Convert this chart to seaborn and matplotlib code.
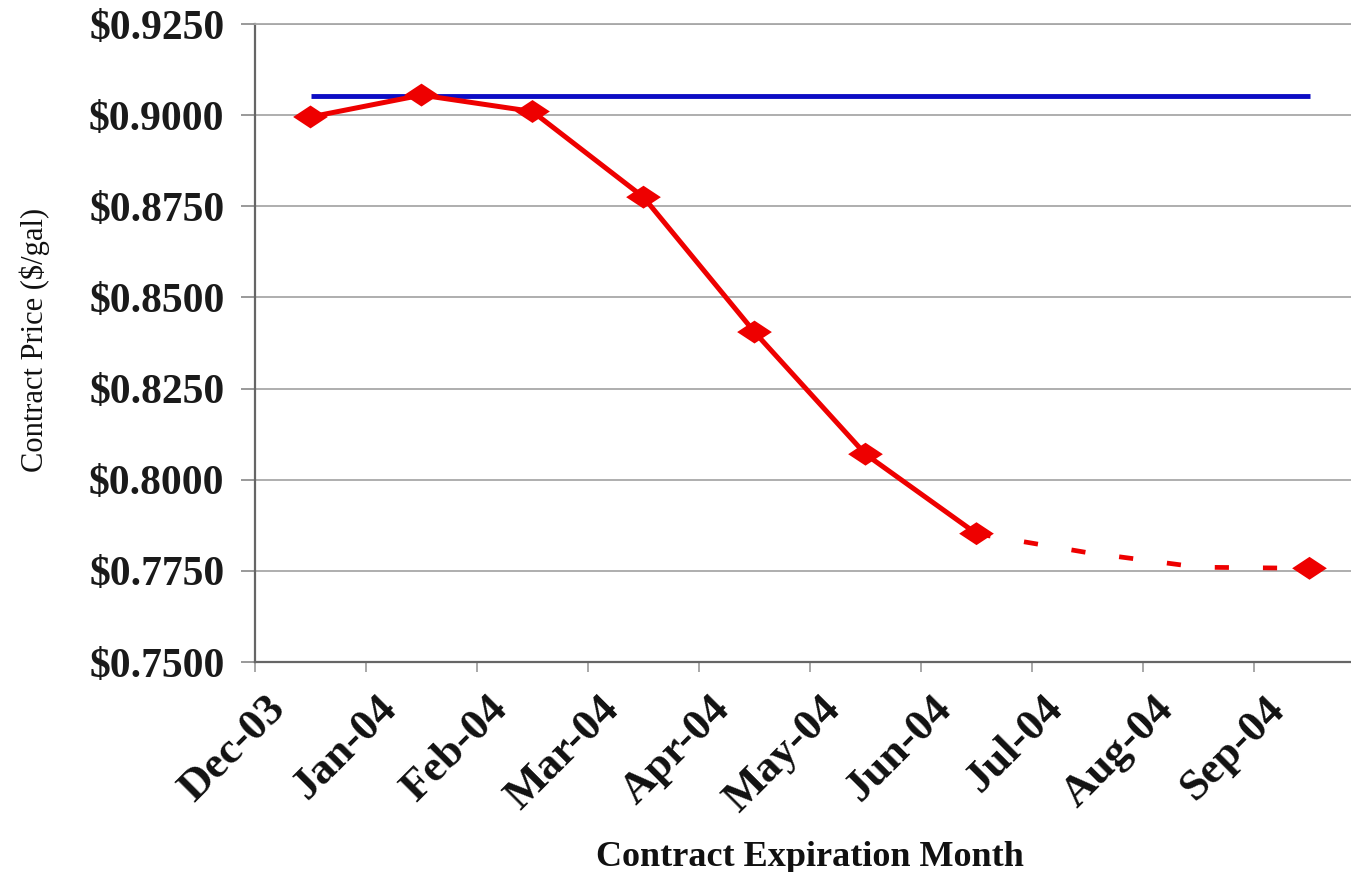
import numpy as np
import pandas as pd
import matplotlib
matplotlib.use("Agg")
import matplotlib.pyplot as plt
import matplotlib.transforms as mtransforms
from matplotlib.path import Path
from matplotlib.ticker import FixedLocator, FuncFormatter, NullFormatter
import seaborn as sns

# Contract expiration months along the category axis
months = ["Dec-03", "Jan-04", "Feb-04", "Mar-04", "Apr-04", "May-04",
          "Jun-04", "Jul-04", "Aug-04", "Sep-04"]

# Traded futures prices ($/gal), Dec-03 .. Jun-04
traded_months = ["Dec-03", "Jan-04", "Feb-04", "Mar-04", "Apr-04", "May-04", "Jun-04"]
traded_prices = [0.8995, 0.9055, 0.9010, 0.8775, 0.8405, 0.8070, 0.7852]

# Projected curve Jun-04 .. Sep-04 (dashed)
proj_months = ["Jun-04", "Jul-04", "Aug-04", "Sep-04"]
proj_prices = [0.7852, 0.7800, 0.7760, 0.7757]

# Marker for the last quoted contract
end_months = ["Sep-04"]
end_prices = [0.7757]

# Reference price level (blue)
ref_months = ["Dec-03", "Sep-04"]
ref_prices = [0.9052, 0.9052]

y_ticks = [0.7500, 0.7750, 0.8000, 0.8250, 0.8500, 0.8750, 0.9000, 0.9250]

RED = "#EE0000"
BLUE = "#0C0CC4"
SERIF = ["Liberation Serif", "DejaVu Serif"]

sns.set_style("white")
plt.rcParams["font.family"] = SERIF

pos = {m: i for i, m in enumerate(months)}


def frame(names, values):
    return pd.DataFrame({"x": [pos[n] for n in names], "price": values})


traded = frame(traded_months, traded_prices)
proj = frame(proj_months, proj_prices)
ref = frame(ref_months, ref_prices)
marks = pd.concat([traded, frame(end_months, end_prices)], ignore_index=True)

fig = plt.figure(figsize=(13.51, 8.72), dpi=100)
# plot area runs a little past the right edge of the canvas
ax = fig.add_axes([255 / 1351, 1 - 662 / 872, 1110 / 1351, 638 / 872])

sns.lineplot(data=ref, x="x", y="price", ax=ax, color=BLUE, linewidth=3.5,
             solid_capstyle="butt", zorder=3)
sns.lineplot(data=proj, x="x", y="price", ax=ax, color=RED, linewidth=3.4,
             dashes=False, zorder=3)
proj_line = ax.lines[-1]
proj_line.set_linestyle((0.0, (3.0, 7.2)))
proj_line.set_dash_capstyle("butt")
sns.lineplot(data=traded, x="x", y="price", ax=ax, color=RED, linewidth=3.6,
             zorder=4)

diamond = Path([(-0.5, 0.0), (0.0, 0.33), (0.5, 0.0), (0.0, -0.33), (-0.5, 0.0)],
               [Path.MOVETO, Path.LINETO, Path.LINETO, Path.LINETO, Path.CLOSEPOLY])
sns.scatterplot(data=marks, x="x", y="price", ax=ax, marker=diamond, s=25 ** 2,
                color=RED, edgecolor="none", linewidth=0, zorder=5)

ax.set_xlim(-0.5, len(months) - 0.5)
ax.set_ylim(y_ticks[0], y_ticks[-1])

# y axis: dollar ticks with grid
ax.yaxis.set_major_locator(FixedLocator(y_ticks))
ax.yaxis.set_major_formatter(FuncFormatter(lambda v, _: r"\$" + f"{v:.4f}"))
ax.grid(axis="y", color="#A8A8A8", linewidth=1.3, zorder=0)
ax.set_axisbelow(True)

# x axis: tick marks between categories, labels on category centres
ax.xaxis.set_major_locator(FixedLocator(np.arange(len(months)) - 0.5))
ax.xaxis.set_major_formatter(NullFormatter())
ax.set_xticks(np.arange(len(months)), minor=True)
ax.set_xticklabels(months, minor=True)

ax.tick_params(axis="y", which="major", direction="out", length=10, width=1.2,
               color="#888888", labelsize=30, pad=12, left=True)
ax.tick_params(axis="x", which="major", direction="out", length=7, width=1.2,
               color="#999999", bottom=True)
ax.tick_params(axis="x", which="minor", length=0, labelsize=32, pad=19, bottom=True)

for lab in ax.get_yticklabels():
    lab.set_fontweight("bold")
    lab.set_color("#1A1A1A")

shift = mtransforms.ScaledTranslation(-0.17, 0.0, fig.dpi_scale_trans)
for lab in ax.get_xticklabels(minor=True):
    lab.set_rotation(45)
    lab.set_ha("right")
    lab.set_va("top")
    lab.set_fontweight("bold")
    lab.set_color("#111111")
    lab.set_transform(lab.get_transform() + shift)

ax.spines["right"].set_visible(False)
ax.spines["top"].set_color("#A8A8A8")
ax.spines["top"].set_linewidth(1.3)
ax.spines["left"].set_color("#666666")
ax.spines["left"].set_linewidth(1.6)
ax.spines["bottom"].set_color("#666666")
ax.spines["bottom"].set_linewidth(1.6)

ax.set_xlabel("Contract Expiration Month", fontsize=26, fontweight="bold",
              color="#111111")
ax.xaxis.set_label_coords(0.5, -0.281)
ax.set_ylabel("Contract Price (\\$/gal)", fontsize=22, color="#111111")
ax.yaxis.set_label_coords(-0.185, 0.505)

fig.savefig("out.png", dpi=100, facecolor="white")
